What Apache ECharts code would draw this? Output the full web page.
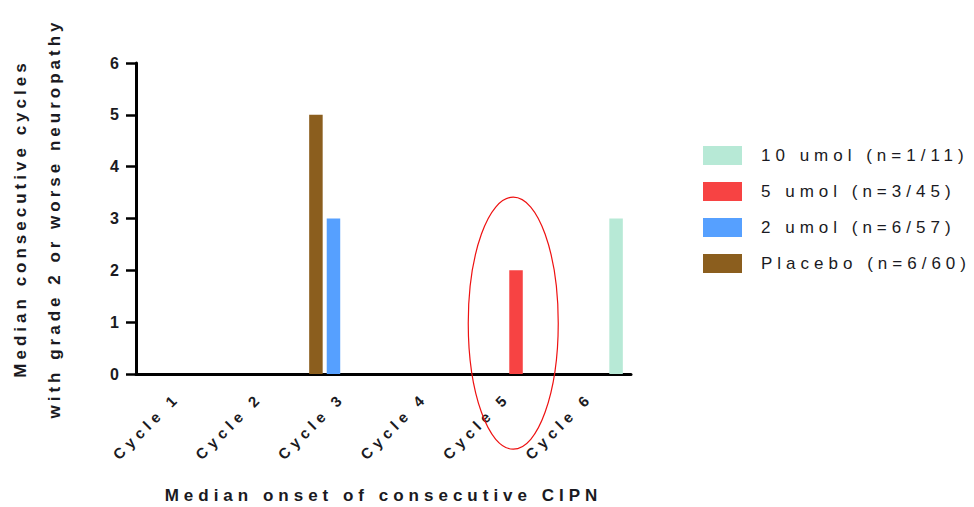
<!DOCTYPE html>
<html>
<head>
<meta charset="utf-8">
<script src="https://cdn.jsdelivr.net/npm/echarts@6/dist/echarts.min.js"></script>
<style>
  html, body { margin: 0; padding: 0; background: #fff; }
  #cipnChart { width: 974px; height: 507px; }
  /* GraphPad-style wide letter spacing */
  #cipnChart text { letter-spacing: 5px; }
</style>
</head>
<body>
<div id="cipnChart"></div>
<script>
// data
const categories = ['Cycle 1', 'Cycle 2', 'Cycle 3', 'Cycle 4', 'Cycle 5', 'Cycle 6'];
const placebo = [null, null, 5, null, null, null];
const umol2 = [null, null, 3, null, null, null];
const umol5 = [null, null, null, null, 2, null];
const umol10 = [null, null, null, null, null, 3];
const seriesNames = ['Placebo (n=6/60)', '2 umol (n=6/57)', '5 umol (n=3/45)', '10 umol (n=1/11)'];
const yTicks = [0, 6, 1]; // min, max, interval
const yTitle = ['Median consecutive cycles', 'with grade 2 or worse neuropathy'];

const font = "'Liberation Sans', Arial, sans-serif";
const ink = '#1a1a22';

const chartDom = document.getElementById('cipnChart');
const myChart = echarts.init(chartDom, null, { renderer: 'svg' });

function barSeries(name, data, color) {
  return {
    name: name,
    type: 'bar',
    data: data,
    barWidth: 13.5,
    barGap: '30%',
    itemStyle: { color: color },
    silent: true
  };
}

let option = {
  animation: false,
  textStyle: { fontFamily: font },
  grid: { left: 136, top: 63, width: 495, height: 311, containLabel: false, outerBoundsMode: 'none' },
  legend: {
    orient: 'vertical',
    left: 703,
    top: 146,
    padding: 0,
    icon: 'rect',
    itemWidth: 39,
    itemHeight: 19,
    itemGap: 17,
    data: [seriesNames[3], seriesNames[2], seriesNames[1], seriesNames[0]],
    textStyle: { fontSize: 17, color: ink, fontFamily: font, padding: [0, 0, 0, 14] }
  },
  xAxis: {
    type: 'category',
    data: categories,
    name: 'Median onset of consecutive CIPN',
    nameLocation: 'middle',
    nameGap: 113,
    nameTextStyle: { fontSize: 17, fontWeight: 'bold', color: ink, fontFamily: font },
    axisLine: { lineStyle: { color: '#000', width: 3 } },
    axisTick: { alignWithLabel: true, length: 8, lineStyle: { color: '#000', width: 2.5 } },
    axisLabel: { rotate: 45, margin: 21, fontSize: 15, fontWeight: 'bold', color: ink, fontFamily: font, interval: 0 },
    splitLine: { show: false }
  },
  yAxis: {
    type: 'value',
    min: yTicks[0],
    max: yTicks[1],
    interval: yTicks[2],
    name: yTitle.join('\n'),
    nameLocation: 'middle',
    nameGap: 65,
    nameTextStyle: { fontSize: 17, fontWeight: 'bold', color: ink, fontFamily: font, lineHeight: 34 },
    axisLine: { show: true, lineStyle: { color: '#000', width: 3 } },
    axisTick: { show: true, length: 10, lineStyle: { color: '#000', width: 2.5 } },
    axisLabel: { margin: 12, fontSize: 16, fontWeight: 'bold', color: ink, fontFamily: font },
    splitLine: { show: false }
  },
  series: [
    barSeries(seriesNames[0], placebo, '#8b5e1e'),
    barSeries(seriesNames[1], umol2, '#56a0ff'),
    barSeries(seriesNames[2], umol5, '#f74343'),
    barSeries(seriesNames[3], umol10, '#b7e9d6')
  ]
};
myChart.setOption(option);

// red ellipse highlighting the Cycle 5 bar
const c = myChart.convertToPixel({ xAxisIndex: 0, yAxisIndex: 0 }, ['Cycle 5', 1]);
myChart.setOption({
  graphic: [{
    type: 'ellipse',
    shape: { cx: c[0] + 6, cy: c[1] + 1, rx: 45, ry: 126 },
    style: { fill: 'none', stroke: '#ee1111', lineWidth: 1.2 },
    silent: true,
    z: 100
  }]
});

// y title is a bit tighter than the rest
function tightenTitle() {
  chartDom.querySelectorAll('text').forEach(t => {
    if (yTitle.indexOf(t.textContent) >= 0) t.style.letterSpacing = '4px';
  });
}
tightenTitle();
myChart.on('finished', tightenTitle);
</script>
</body>
</html>
